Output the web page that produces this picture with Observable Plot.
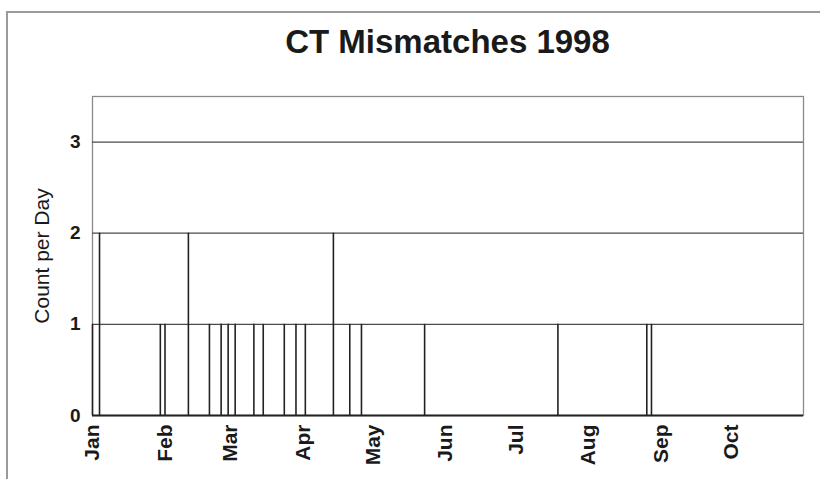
<!DOCTYPE html>
<html>
<head>
<meta charset="utf-8">
<script src="https://cdn.jsdelivr.net/npm/d3@7"></script>
<script src="https://cdn.jsdelivr.net/npm/@observablehq/plot@0.6"></script>
<style>
  html, body { margin: 0; padding: 0; background: #fff; overflow: hidden; }
  body { width: 820px; height: 479px; position: relative; font-family: "Liberation Sans", Arial, sans-serif; }
  #border { position: absolute; left: 6px; top: 11px; width: 900px; height: 600px;
            border-left: 2px solid #9a9a9a; border-top: 2px solid #9a9a9a; pointer-events: none; }
  #title { height: 44px; padding-top: 26px; padding-left: 92px; padding-right: 17px; text-align: center;
           font-size: 33px; line-height: 31px; font-weight: bold; color: #1a1a1a; }
  #chart svg { display: block; }
</style>
</head>
<body>
<div id="border"></div>
<div id="title">CT Mismatches 1998</div>
<div id="chart"></div>
<script>
// Event days and counts per day
const eventDates = [
  "1998-01-01", "1998-01-04", "1998-01-30", "1998-02-01", "1998-02-11",
  "1998-02-20", "1998-02-25", "1998-02-28", "1998-03-03", "1998-03-11",
  "1998-03-15", "1998-03-24", "1998-03-29", "1998-04-02", "1998-04-14",
  "1998-04-21", "1998-04-26", "1998-05-23", "1998-07-19", "1998-08-26",
  "1998-08-28"
];
const eventCounts = [
  1, 2, 1, 1, 2,
  1, 1, 1, 1, 1,
  1, 1, 1, 1, 2,
  1, 1, 1, 1, 1,
  1
];
const monthLabels = ["Jan", "Feb", "Mar", "Apr", "May", "Jun", "Jul", "Aug", "Sep", "Oct"];
const yTicks = [0, 1, 2, 3];
const gridValues = [1, 2, 3];

const data = eventDates.map((d, i) => ({date: new Date(d + "T00:00:00Z"), count: eventCounts[i]}));
const monthStarts = monthLabels.map((m, i) => new Date(Date.UTC(1998, i, 1)));

const chart = Plot.plot({
  width: 820,
  height: 409,
  marginLeft: 92,
  marginRight: 17,
  marginTop: 26,
  marginBottom: 64,
  style: {fontFamily: "'Liberation Sans', Arial, sans-serif", fontSize: "17px", color: "#1a1a1a", background: "#fff"},
  x: {type: "utc", domain: [new Date(Date.UTC(1998, 0, 1)), new Date(Date.UTC(1998, 10, 1))]},
  y: {domain: [0, 3.5]},
  marks: [
    Plot.frame({stroke: "#8a8a8a", strokeWidth: 1.3}),
    Plot.ruleY(gridValues, {stroke: "#4a4a4a", strokeWidth: 1.3}),
    Plot.ruleX(data, {x: "date", y1: 0, y2: "count", stroke: "#222", strokeWidth: 1.6}),
    Plot.ruleY([0], {stroke: "#222", strokeWidth: 2.2}),
    Plot.axisY(yTicks, {tickSize: 0, tickPadding: 12, fontWeight: "bold", fontSize: 19, label: null,
      tickFormat: (d) => String(d)}),
    Plot.axisX(monthStarts, {tickSize: 0, tickPadding: 9, tickRotate: -90, fontWeight: "bold", fontSize: 21,
      tickFormat: (d) => monthLabels[d.getUTCMonth()], label: null}),
    Plot.text(["Count per Day"], {frameAnchor: "left", dx: -50, rotate: -90, textAnchor: "middle",
      fontSize: 21, fill: "#1a1a1a"})
  ]
});
document.getElementById("chart").appendChild(chart);
</script>
</body>
</html>
